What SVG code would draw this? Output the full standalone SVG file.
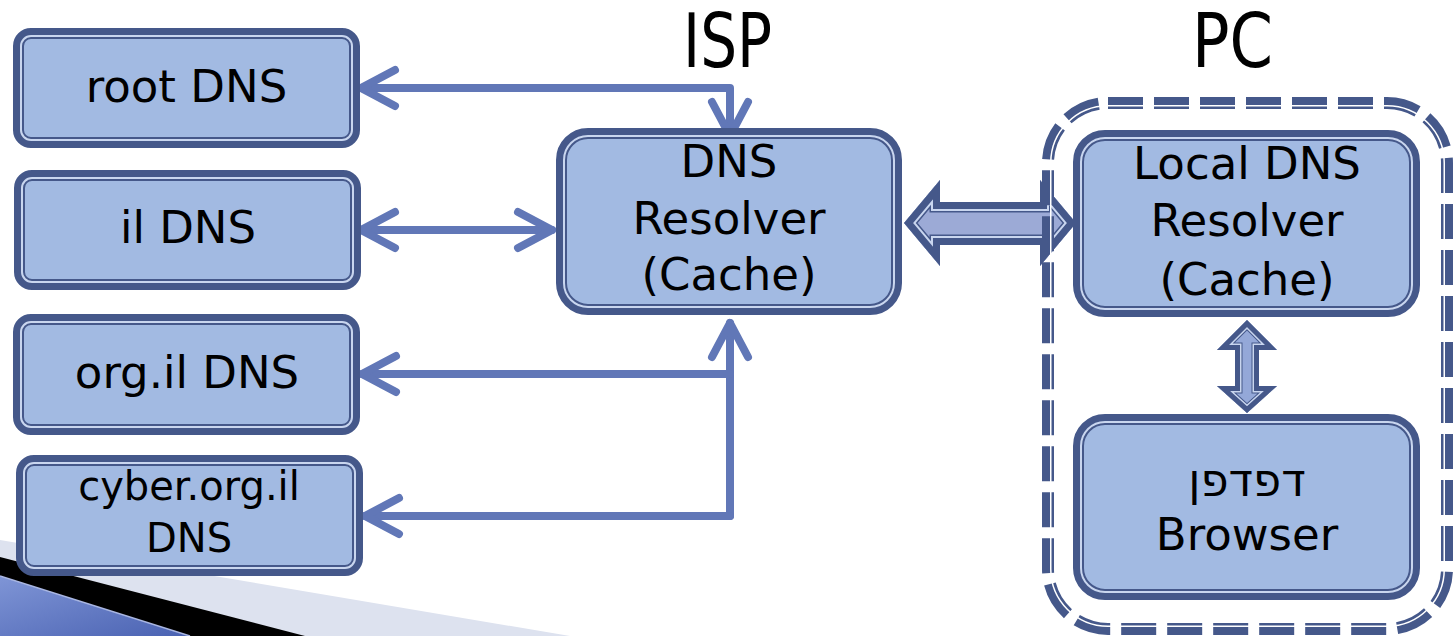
<svg xmlns="http://www.w3.org/2000/svg" width="1456" height="636" viewBox="0 0 1456 636">
<style>
text{font-family:"DejaVu Sans","Noto Sans",sans-serif;fill:#000;text-anchor:middle}
.box{fill:#A2BAE2;stroke:#45588A;stroke-width:11}
.boxin{fill:none;stroke:#C9D6EF;stroke-width:2}
.conn{fill:none;stroke:#6177B7;stroke-width:8;stroke-linecap:round;stroke-linejoin:round}
.lbl{font-size:45px}
.sm{font-size:40px}
.title{font-size:74px}
.dk{fill:none;stroke:#45588A;stroke-linejoin:miter;stroke-miterlimit:10}
.lt{fill:none;stroke:#C9D6EF;stroke-linejoin:miter;stroke-miterlimit:10}
</style>
<defs>
<marker id="ah" markerUnits="userSpaceOnUse" markerWidth="50" markerHeight="50" viewBox="-45 -25 50 50" refX="0" refY="0" orient="auto-start-reverse" overflow="visible">
<path d="M -34 -18 L 0 0 L -34 18" fill="none" stroke="#6177B7" stroke-width="8" stroke-linecap="round" stroke-linejoin="round"/>
</marker>
<linearGradient id="bluegrad" x1="0" y1="0" x2="1" y2="1">
<stop offset="0" stop-color="#7F95D6"/>
<stop offset="1" stop-color="#4A62B2"/>
</linearGradient>
<path id="bigArrow" d="M 904 223 L 940 180 L 940 202 L 1040 202 L 1040 180 L 1076 223 L 1040 266 L 1040 245 L 940 245 L 940 266 Z"/>
<path id="smallArrow" d="M 1247 320 L 1277 350 L 1259 350 L 1259 386 L 1277 386 L 1247 413 L 1217 386 L 1235 386 L 1235 350 L 1217 350 Z"/>
<clipPath id="clipBig"><use href="#bigArrow"/></clipPath>
<clipPath id="clipSmall"><use href="#smallArrow"/></clipPath>
</defs>

<g id="background-decoration">
<polygon points="0,540 570,636 0,636" fill="#DDE2EF"/>
<polygon points="0,557 305,636 0,636" fill="#000"/>
<polygon points="0,576 190,636 0,636" fill="url(#bluegrad)"/>
<line x1="0" y1="576" x2="190" y2="636" stroke="#A9B6E2" stroke-width="1.5"/>
</g>

<g id="titles">
<text class="title" x="727.5" y="67" textLength="89" lengthAdjust="spacingAndGlyphs">ISP</text>
<text class="title" x="1232.5" y="67" textLength="81" lengthAdjust="spacingAndGlyphs">PC</text>
</g>

<g id="connectors">
<path class="conn" d="M 361 88 H 730 V 136" marker-start="url(#ah)" marker-end="url(#ah)"/>
<path class="conn" d="M 361 230 H 552" marker-start="url(#ah)" marker-end="url(#ah)"/>
<path class="conn" d="M 730 516 V 323" marker-end="url(#ah)"/>
<path class="conn" d="M 730 374 H 362" marker-end="url(#ah)"/>
<path class="conn" d="M 730 516 H 365" marker-end="url(#ah)"/>
<g id="resolver-link" clip-path="url(#clipBig)">
<use href="#bigArrow" fill="#9CAAD6"/>
<use href="#bigArrow" class="dk" stroke-width="21"/>
<use href="#bigArrow" class="lt" stroke-width="18"/>
<use href="#bigArrow" class="dk" stroke-width="14"/>
</g>
<g id="browser-link" clip-path="url(#clipSmall)">
<use href="#smallArrow" fill="#94A8D8"/>
<use href="#smallArrow" class="dk" stroke-width="15"/>
<use href="#smallArrow" class="lt" stroke-width="13"/>
<use href="#smallArrow" class="dk" stroke-width="10"/>
</g>
</g>

<g id="pc-group">
<rect x="1048" y="103" width="399" height="526" rx="60" fill="none" stroke="#45588A" stroke-width="12" stroke-dasharray="35 11"/>
<rect x="1050.75" y="105.75" width="393.5" height="520.5" rx="57.25" fill="none" stroke="#fff" stroke-width="1.5"/>
</g>

<g id="root-dns">
<rect class="box" x="18.5" y="33.5" width="336" height="109" rx="12.5"/>
<rect class="boxin" x="21" y="36" width="331" height="104" rx="10"/>
<text class="lbl" x="186.5" y="102">root DNS</text>
</g>

<g id="il-dns">
<rect class="box" x="19.5" y="175.5" width="336" height="109" rx="12.5"/>
<rect class="boxin" x="22" y="178" width="331" height="104" rx="10"/>
<text class="lbl" x="188" y="243">il DNS</text>
</g>

<g id="org-il-dns">
<rect class="box" x="18.5" y="319.5" width="336" height="110" rx="12.5"/>
<rect class="boxin" x="21" y="322" width="331" height="105" rx="10"/>
<text class="lbl" x="187" y="388">org.il DNS</text>
</g>

<g id="cyber-org-il-dns">
<rect class="box" x="21.5" y="460.5" width="336" height="110" rx="12.5"/>
<rect class="boxin" x="24" y="463" width="331" height="105" rx="10"/>
<text class="sm" x="189" y="500">cyber.org.il</text>
<text class="sm" x="189" y="552">DNS</text>
</g>

<g id="dns-resolver">
<rect class="box" x="561.5" y="133.5" width="335" height="176" rx="26.5"/>
<rect class="boxin" x="564" y="136" width="330" height="171" rx="24"/>
<text class="lbl" x="729" y="177">DNS</text>
<text class="lbl" x="729" y="234">Resolver</text>
<text class="lbl" x="729" y="290">(Cache)</text>
</g>

<g id="local-dns-resolver">
<rect class="box" x="1078.5" y="135.5" width="336" height="176" rx="26.5"/>
<rect class="boxin" x="1081" y="138" width="331" height="171" rx="24"/>
<text class="lbl" x="1247" y="179">Local DNS</text>
<text class="lbl" x="1247" y="236">Resolver</text>
<text class="lbl" x="1247" y="295">(Cache)</text>
</g>

<g id="browser">
<rect class="box" x="1078.5" y="419.5" width="336" height="175" rx="26.5"/>
<rect class="boxin" x="1081" y="422" width="331" height="170" rx="24"/>
<text class="lbl" x="1247" y="496">דפדפן</text>
<text class="lbl" x="1247" y="550">Browser</text>
</g>
</svg>
